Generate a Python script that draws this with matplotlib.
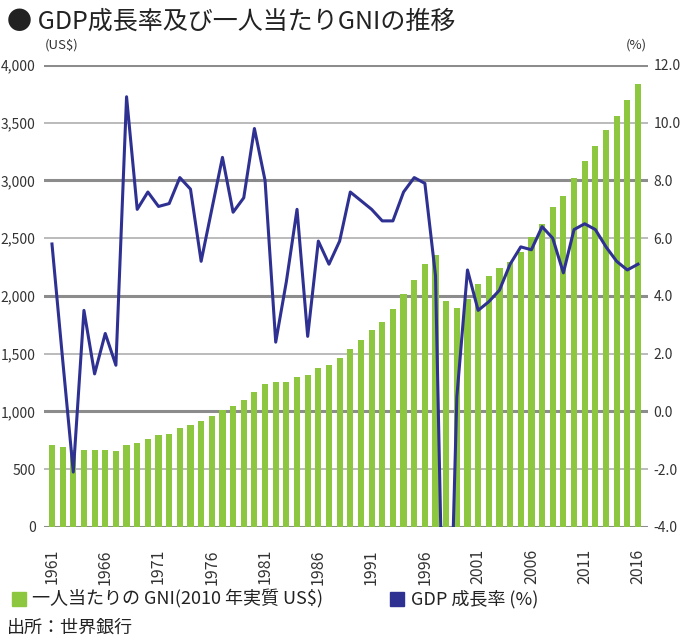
import numpy as np
import matplotlib.pyplot as plt

plt.rcParams['font.family'] = ['Noto Sans CJK JP', 'DejaVu Sans']

# --- データ ---
years = np.arange(1961, 2017)

# 一人当たりGNI (2010年実質 US$)
gni = [710, 693, 667, 667, 667, 667, 658, 710, 727, 762,
       797, 805, 857, 883, 918, 961, 1013, 1048, 1100, 1169,
       1238, 1255, 1255, 1299, 1316, 1377, 1403, 1463, 1541, 1619,
       1706, 1775, 1887, 2017, 2139, 2277, 2355, 1957, 1896, 1974,
       2104, 2173, 2242, 2294, 2381, 2511, 2623, 2771, 2866, 3022,
       3169, 3299, 3437, 3558, 3697, 3835]

# GDP成長率 (%)
gdp = [5.8, 1.8, -2.1, 3.5, 1.3, 2.7, 1.6, 10.9, 7.0, 7.6,
       7.1, 7.2, 8.1, 7.7, 5.2, 7.0, 8.8, 6.9, 7.4, 9.8,
       8.0, 2.4, 4.5, 7.0, 2.6, 5.9, 5.1, 5.9, 7.6, 7.3,
       7.0, 6.6, 6.6, 7.6, 8.1, 7.9, 4.7, -13.1, 0.5, 4.9,
       3.5, 3.8, 4.2, 5.1, 5.7, 5.6, 6.4, 6.0, 4.8, 6.3,
       6.5, 6.3, 5.7, 5.2, 4.9, 5.1]

left_ticks = np.arange(0, 4001, 500)
right_ticks = np.arange(-4, 12.1, 2)
year_ticks = np.arange(1961, 2017, 5)

green = '#8dc63f'
navy = '#2e3192'

# --- 描画 ---
fig = plt.figure(figsize=(6.82, 6.41), dpi=100)
ax = fig.add_axes([0.0645, 0.178, 0.8856, 0.7206])

# グリッド線(太線と細線を交互に)
for i, t in enumerate(left_ticks):
    if i % 2 == 0:
        ax.axhline(t, color='#8c8c8c', lw=2.2, zorder=0)
    else:
        ax.axhline(t, color='#a8a8a8', lw=1.1, zorder=0)

ax.bar(years, gni, width=0.58, color=green, zorder=2)
ax.set_xlim(1960.25, 2016.94)
ax.set_ylim(0, 4000)
ax.set_yticks(left_ticks)
ax.set_yticklabels([f'{t:,}' for t in left_ticks], fontsize=10, color='#333333')
ax.set_xticks(year_ticks)
ax.set_xticklabels([str(y) for y in year_ticks], rotation=90, fontsize=11.5,
                   color='#333333')
ax.tick_params(axis='both', length=0)
ax.tick_params(axis='y', pad=6)
ax.tick_params(axis='x', pad=16)
for s in ax.spines.values():
    s.set_visible(False)

ax2 = ax.twinx()
ax2.plot(years, gdp, color=navy, lw=2.2, zorder=3)
ax2.set_ylim(-4, 12)
ax2.set_yticks(right_ticks)
ax2.set_yticklabels([f'{t:.1f}' for t in right_ticks], fontsize=10,
                    color='#333333')
ax2.tick_params(axis='y', length=0, pad=4)
for s in ax2.spines.values():
    s.set_visible(False)

# タイトル・単位
fig.text(0.01, 0.966, '● GDP成長率及び一人当たりGNIの推移', fontsize=18,
         va='center', ha='left', color='#222222')
fig.text(0.066, 0.93, '(US$)', fontsize=9.5, va='center', ha='left',
         color='#333333')
fig.text(0.918, 0.93, '(%)', fontsize=9.5, va='center', ha='left',
         color='#333333')

# 凡例
fig.patches.append(plt.Rectangle((0.017, 0.054), 0.021, 0.023,
                                 transform=fig.transFigure, color=green))
fig.text(0.047, 0.065, '一人当たりの GNI(2010 年実質 US$)', fontsize=13,
         va='center', ha='left', color='#222222')
fig.patches.append(plt.Rectangle((0.572, 0.054), 0.021, 0.023,
                                 transform=fig.transFigure, color=navy))
fig.text(0.603, 0.065, 'GDP 成長率 (%)', fontsize=13, va='center',
         ha='left', color='#222222')
fig.text(0.01, 0.02, '出所：世界銀行', fontsize=13, va='center',
         ha='left', color='#222222')

fig.savefig('out.png', dpi=100)
